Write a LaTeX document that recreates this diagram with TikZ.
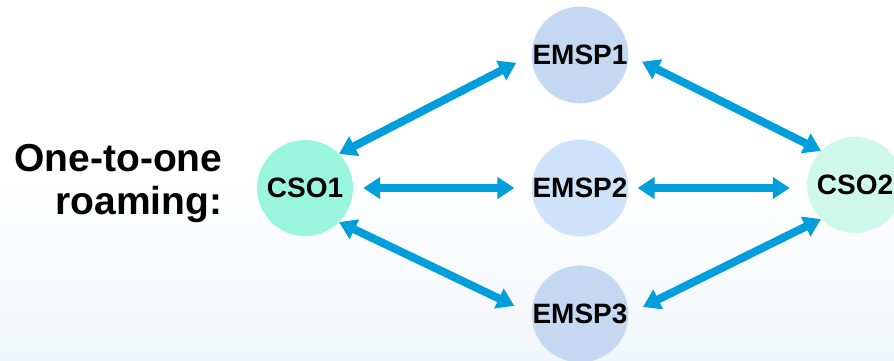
\documentclass[tikz,border=0pt]{standalone}
\usepackage{fontspec}
\setmainfont{Liberation Sans}
\usetikzlibrary{arrows.meta}
\definecolor{arrowblue}{RGB}{0,158,219}
\definecolor{csoA}{RGB}{153,245,220}
\definecolor{csoB}{RGB}{206,248,233}
\definecolor{emspA}{RGB}{197,216,242}
\definecolor{emspB}{RGB}{206,227,250}
\definecolor{bgbottom}{RGB}{241,246,250}
\tikzset{
  party/.style={circle, minimum size=96pt, inner sep=0pt, font=\fontsize{28}{30}\selectfont\bfseries},
  link/.style={draw=arrowblue, line width=8pt, {Triangle[length=17pt,width=21pt]}-{Triangle[length=17pt,width=21pt]}},
}
\begin{document}
\begin{tikzpicture}[x=1pt,y=1pt]
\shade[top color=white, bottom color=bgbottom, middle color=white] (0,0) rectangle (894,360);
\useasboundingbox (0,0) rectangle (894,360);
\node[align=right, anchor=east, font=\fontsize{39}{43}\selectfont\bfseries] (title) at (226,176) {One-to-one\hspace{10pt}\\roaming:};
\node[party, fill=csoA] (cso1) at (305,172) {CSO1};
\node[party, fill=emspA] (emsp1) at (580,305) {EMSP1};
\node[party, fill=emspB] (emsp2) at (580,172) {EMSP2};
\node[party, fill=emspA] (emsp3) at (580,46) {EMSP3};
\node[party, fill=csoB] (cso2) at (855,175) {CSO2};
\draw[link, shorten >=17pt] (cso1.45) -- (emsp1.west);
\draw[link, shorten <=10pt, shorten >=17pt] (cso1.east) -- (emsp2.west);
\draw[link, shorten >=19pt] (cso1.-45) -- (emsp3.west);
\draw[link, shorten <=15pt] (emsp1.east) -- (cso2.135);
\draw[link, shorten <=9pt, shorten >=17pt] (emsp2.east) -- (emsp2.east -| cso2.west);
\draw[link, shorten <=16pt] (emsp3.east) -- (cso2.-135);
\end{tikzpicture}
\end{document}
